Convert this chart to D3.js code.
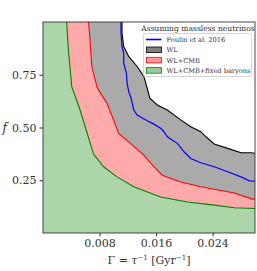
<!DOCTYPE html>
<meta charset="utf-8">
<script src="https://d3js.org/d3.v7.min.js"></script>
<style>
  body { margin: 0; background: #fff; }
  text { font-family: "DejaVu Serif", "Liberation Serif", serif; }
</style>
<div id="chart"></div>
<script>
// contour boundaries [Gamma, f]
var wlCurve = [[0.01118,1.0],[0.01118,0.948],[0.01142,0.884],[0.01213,0.837],[0.01332,0.789],[0.01427,0.742],
  [0.01474,0.686],[0.01512,0.639],[0.01617,0.607],[0.01759,0.583],[0.01949,0.536],[0.02091,0.504],
  [0.02233,0.480],[0.02281,0.464],[0.02423,0.422],[0.02613,0.401],[0.02803,0.380],[0.02945,0.380],[0.0302,0.377]];
var wlCmbCurve = [[0.00644,1.0],[0.00658,0.948],[0.00691,0.789],[0.00763,0.694],[0.00800,0.670],[0.00905,0.615],
  [0.00999,0.536],[0.01071,0.472],[0.01237,0.425],[0.01427,0.369],[0.01569,0.314],[0.01688,0.274],
  [0.01949,0.242],[0.02233,0.219],[0.02708,0.190],[0.02945,0.163],[0.0302,0.158]];
var baryonCurve = [[0.00335,1.0],[0.00359,0.868],[0.00407,0.694],[0.00525,0.583],[0.00715,0.374],[0.00858,0.314],
  [0.01047,0.266],[0.01285,0.219],[0.01664,0.171],[0.02044,0.147],[0.02423,0.132],[0.02708,0.120],[0.0302,0.116]];
var poulinCurve = [[0.01104,1.0],[0.01104,0.948],[0.01118,0.884],[0.01142,0.853],[0.01142,0.805],[0.01180,0.758],
  [0.01190,0.710],[0.01213,0.670],[0.01247,0.639],[0.01261,0.615],[0.01285,0.583],[0.01332,0.559],
  [0.01474,0.532],[0.01569,0.516],[0.01664,0.496],[0.01712,0.480],[0.01759,0.456],[0.01901,0.425],
  [0.01996,0.385],[0.02091,0.353],[0.02233,0.333],[0.02423,0.314],[0.02613,0.290],[0.02803,0.266],
  [0.02921,0.247],[0.0302,0.246]];
var xTicks = [0.008, 0.016, 0.024];
var yTicks = [0.25, 0.50, 0.75];

var margin = {top: 22, right: 2, bottom: 38, left: 43},
    width = 257 - margin.left - margin.right,
    height = 271 - margin.top - margin.bottom;

var svg = d3.select("#chart").append("svg")
    .attr("width", 257).attr("height", 271);
var g = svg.append("g")
    .attr("transform", "translate(" + margin.left + "," + margin.top + ")");

var x = d3.scaleLinear().domain([0, 0.03]).range([0, width]);
var y = d3.scaleLinear().domain([0, 1]).range([height, 0]);

g.append("defs").append("clipPath").attr("id", "clip")
  .append("rect").attr("width", width).attr("height", height);

var line = d3.line().x(function(d){ return x(d[0]); }).y(function(d){ return y(d[1]); });
var plot = g.append("g").attr("clip-path", "url(#clip)");

// region left/below of a curve
function region(c) {
  return [[0, 0], [0, 1.0]].concat(c).concat([[0.0302, 0]]);
}

var sets = [
  {c: wlCurve, fill: "#aaaaaa", stroke: "#000000"},
  {c: wlCmbCurve, fill: "#ffaaaa", stroke: "#ff0000"},
  {c: baryonCurve, fill: "#acd5a9", stroke: "#008000"}
];
sets.forEach(function(s){
  plot.append("path").attr("d", line(region(s.c)) + "Z").attr("fill", s.fill);
});
sets.forEach(function(s){
  plot.append("path").attr("d", line(s.c)).attr("fill", "none")
    .attr("stroke", s.stroke).attr("stroke-width", 1.1);
});
plot.append("path").attr("d", line(poulinCurve)).attr("fill", "none")
  .attr("stroke", "#0000ff").attr("stroke-width", 1.2);

// axes
var xAxis = g.append("g").attr("transform", "translate(0," + height + ")")
  .call(d3.axisBottom(x).tickValues(xTicks).tickFormat(d3.format(".3f")).tickSize(3.5).tickPadding(3));
var yAxis = g.append("g")
  .call(d3.axisLeft(y).tickValues(yTicks).tickFormat(d3.format(".2f")).tickSize(3.5).tickPadding(3));
[xAxis, yAxis].forEach(function(a){
  a.select(".domain").remove();
  a.selectAll("line").attr("stroke", "#333");
  a.selectAll("text").attr("font-size", 11).attr("fill", "#333")
    .style("font-family", "'DejaVu Serif', serif");
});
g.append("rect").attr("width", width).attr("height", height)
  .attr("fill", "none").attr("stroke", "#333").attr("stroke-width", 0.9);

// labels
svg.append("text").attr("x", 149).attr("y", 264).attr("text-anchor", "middle")
  .attr("font-size", 11).attr("fill", "#333")
  .html("Γ = <tspan font-style='italic'>τ</tspan><tspan baseline-shift='super' font-size='7'>−1</tspan> [Gyr<tspan baseline-shift='super' font-size='7'>−1</tspan>]");
svg.append("text").attr("x", 2.5).attr("y", 132).attr("font-size", 12)
  .attr("font-style", "italic").attr("fill", "#333").text("f");

// legend
var lg = svg.append("g");
lg.append("rect").attr("x", 143.5).attr("y", 33.5).attr("width", 108).attr("height", 43)
  .attr("rx", 2).attr("fill", "#fff").attr("fill-opacity", 0.85).attr("stroke", "#ccc").attr("stroke-width", 0.8);
lg.append("text").attr("x", 198).attr("y", 31).attr("text-anchor", "middle")
  .attr("font-size", 7.6).attr("fill", "#333").text("Assuming massless neutrinos");
var items = [
  {label: "Poulin et al. 2016", type: "line", color: "#0000ff"},
  {label: "WL", type: "box", fill: "#808080", stroke: "#000"},
  {label: "WL+CMB", type: "box", fill: "#ff9999", stroke: "#ff0000"},
  {label: "WL+CMB+fixed baryons", type: "box", fill: "#99cc99", stroke: "#008000"}
];
items.forEach(function(it, i){
  var yy = 39.5 + i * 10.3;
  if (it.type === "line") {
    lg.append("line").attr("x1", 146).attr("x2", 161.5).attr("y1", yy).attr("y2", yy)
      .attr("stroke", it.color).attr("stroke-width", 1.6);
  } else {
    lg.append("rect").attr("x", 146.5).attr("y", yy - 2.8).attr("width", 15).attr("height", 5.6)
      .attr("fill", it.fill).attr("stroke", it.stroke).attr("stroke-width", 0.8);
  }
  lg.append("text").attr("x", 166.5).attr("y", yy + 2.4).attr("font-size", 6.6)
    .attr("fill", "#333").text(it.label);
});
</script>
